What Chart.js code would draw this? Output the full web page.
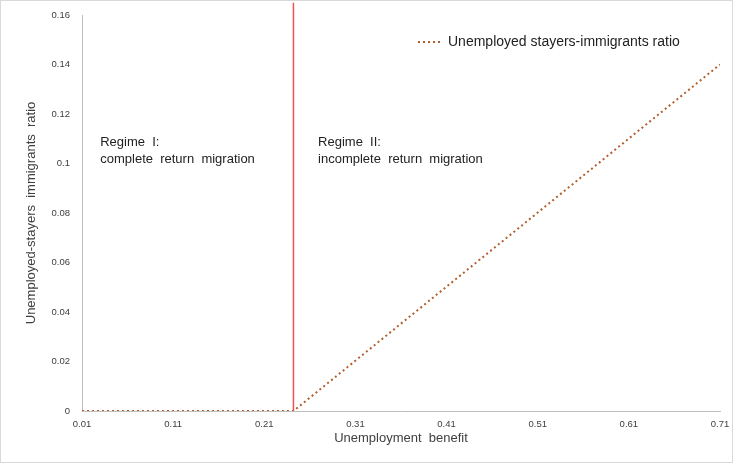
<!DOCTYPE html>
<html>
<head>
<meta charset="utf-8">
<script src="https://cdn.jsdelivr.net/npm/chart.js@4.4.0/dist/chart.umd.min.js"></script>
<style>
  html, body { margin: 0; padding: 0; background: #fff; }
  #wrap { width: 733px; height: 463px; }
</style>
</head>
<body>
<div id="wrap"><canvas id="myChart" width="733" height="463"></canvas></div>
<script>
// values
var benefit = [0.01, 0.242, 0.71];
var ratio = [0, 0, 0.14];
var threshold = 0.242;
var xTicks = [0.01, 0.11, 0.21, 0.31, 0.41, 0.51, 0.61, 0.71];
var seriesName = 'Unemployed stayers-immigrants ratio';
var regimeText = [
  ['Regime  I:', 'complete  return  migration'],
  ['Regime  II:', 'incomplete  return  migration']
];
var regimeAt = [[0.03, 0.1087], [0.269, 0.1087]];

var font = 'Liberation Sans, Arial, sans-serif';
var txt = '#404040';

function fmt(v) {
  return String(parseFloat(Number(v).toFixed(2)));
}

const ctx = document.getElementById('myChart');

var frame = {
  id: 'frame',
  beforeDraw: function (chart) {
    var c = chart.ctx;
    c.save();
    c.fillStyle = '#fff';
    c.fillRect(0, 0, chart.width, chart.height);
    c.strokeStyle = '#d9d9d9';
    c.lineWidth = 1;
    c.strokeRect(0.5, 0.5, chart.width - 1, chart.height - 1);
    c.restore();
  }
};

var notes = {
  id: 'notes',
  afterDraw: function (chart) {
    var c = chart.ctx;
    var xs = chart.scales.x, ys = chart.scales.y;
    c.save();
    c.font = '13px ' + font;
    c.fillStyle = '#222';
    c.textBaseline = 'middle';
    c.textAlign = 'left';
    regimeText.forEach(function (lines, i) {
      var px = xs.getPixelForValue(regimeAt[i][0]);
      var py = ys.getPixelForValue(regimeAt[i][1]);
      lines.forEach(function (l, j) {
        c.fillText(l, px, py + j * 17);
      });
    });
    // legend
    var ds = chart.data.datasets[0];
    var lx = 418, ly = 42;
    c.strokeStyle = ds.borderColor;
    c.lineWidth = ds.borderWidth;
    c.setLineDash(ds.borderDash);
    c.beginPath();
    c.moveTo(lx, ly);
    c.lineTo(lx + 24, ly);
    c.stroke();
    c.setLineDash([]);
    c.font = '14px ' + font;
    c.fillText(ds.label, lx + 30, ly);
    c.restore();
  }
};

let charts = new Chart(ctx, {
  type: 'line',
  data: {
    datasets: [
      {
        label: seriesName,
        data: benefit.map(function (b, i) { return { x: b, y: ratio[i] }; }),
        borderColor: '#b0602c',
        borderWidth: 2,
        borderDash: [2, 3],
        pointRadius: 0,
        fill: false,
        tension: 0
      },
      {
        label: 'threshold',
        data: [{ x: threshold, y: 0 }, { x: threshold, y: 0.165 }],
        borderColor: 'rgb(245, 80, 80)',
        backgroundColor: 'rgb(245, 80, 80)',
        borderWidth: 1.5,
        borderDash: [],
        pointRadius: 0,
        clip: false
      }
    ]
  },
  options: {
    responsive: false,
    animation: false,
    layout: { padding: { top: 15, right: 13, left: 0, bottom: 0 } },
    plugins: {
      legend: { display: false },
      tooltip: { enabled: false }
    },
    scales: {
      x: {
        type: 'linear',
        min: 0.01,
        max: 0.71,
        afterBuildTicks: function (scale) {
          scale.ticks = xTicks.map(function (v) { return { value: v }; });
        },
        afterFit: function (scale) { scale.height = 52; },
        grid: { display: false },
        border: { color: '#bfbfbf' },
        ticks: { font: { family: font, size: 9.5 }, color: txt, padding: 0, maxRotation: 0, autoSkip: false, callback: fmt },
        title: { display: true, text: 'Unemployment  benefit', font: { family: font, size: 13 }, color: txt, padding: { top: 17, bottom: 17 } }
      },
      y: {
        min: 0,
        max: 0.16,
        afterFit: function (scale) { scale.width = 82; },
        grid: { display: false },
        border: { color: '#bfbfbf' },
        ticks: { stepSize: 0.02, font: { family: font, size: 9.5 }, color: txt, padding: 4, callback: fmt },
        title: { display: true, text: 'Unemployed-stayers  immigrants  ratio', font: { family: font, size: 13 }, color: txt, padding: { top: 24, bottom: 24 } }
      }
    }
  },
  plugins: [frame, notes]
});
</script>
</body>
</html>
